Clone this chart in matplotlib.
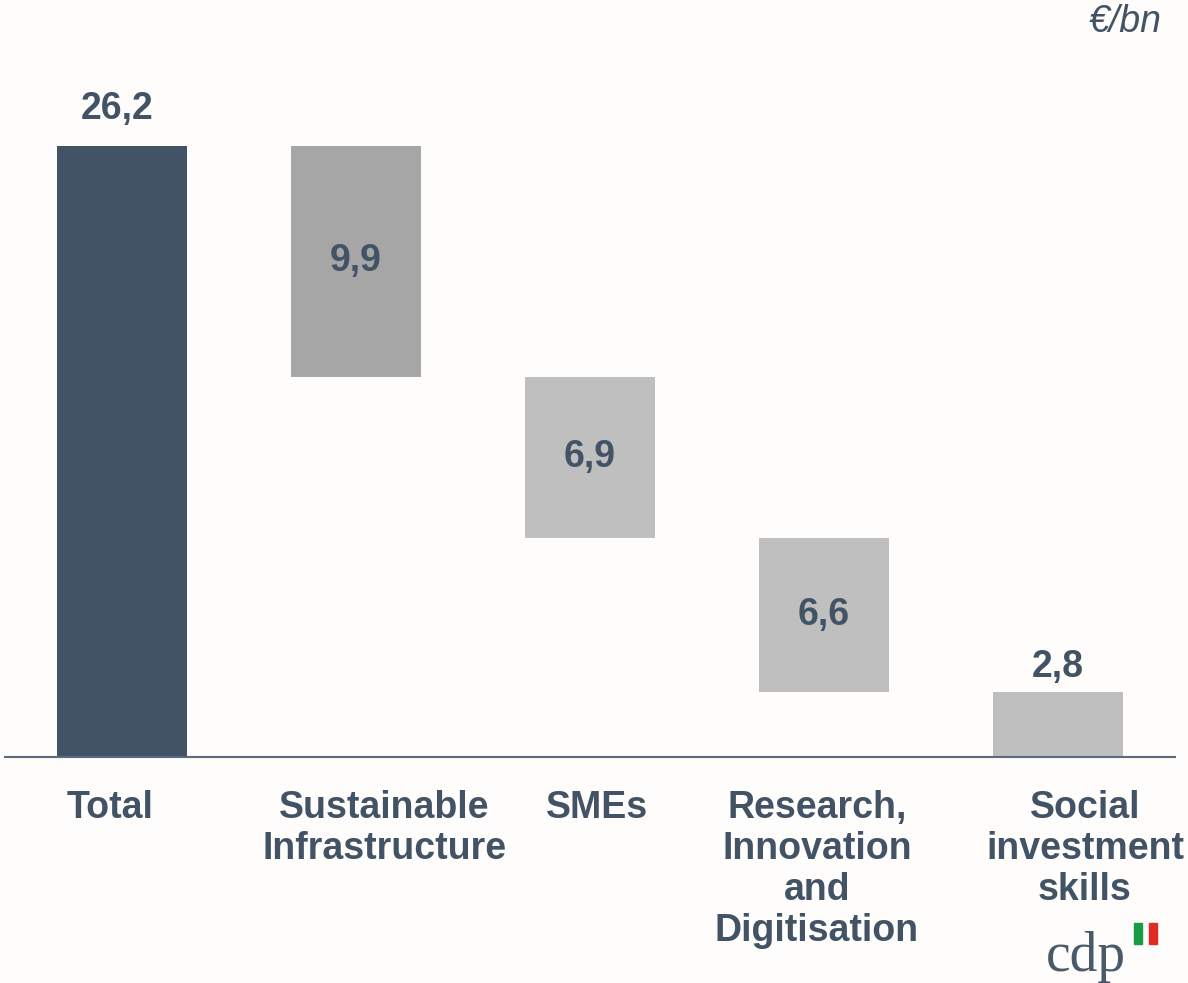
import matplotlib.pyplot as plt
import matplotlib.patches as mpatches
import numpy as np

categories = ["Total", "Sustainable\nInfrastructure", "SMEs",
              "Research,\nInnovation\nand\nDigitisation", "Social\ninvestment\nskills"]
values = [26.2, 9.9, 6.9, 6.6, 2.8]
value_labels = ["26,2", "9,9", "6,9", "6,6", "2,8"]

dark = "#435366"
bg = "#fefdfb"
colors = [dark, "#a6a6a6", "#bfbfbf", "#bfbfbf", "#bfbfbf"]

plt.rcParams['font.family'] = ['Liberation Sans', 'DejaVu Sans']

# waterfall: total first, then the parts stepping down from the top
bottoms = [0.0]
tops = [values[0]]
level = values[0]
for v in values[1:]:
    tops.append(level)
    level -= v
    bottoms.append(level)
heights = np.array(tops) - np.array(bottoms)

W, H = 1188, 983
fig = plt.figure(figsize=(W / 100, H / 100), dpi=100, facecolor=bg)
scale = 611 / 26.2  # px per unit
ymax = 30
ax_h = ymax * scale
ax = fig.add_axes([5 / W, (H - 757) / H, 1170 / W, ax_h / H])
ax.set_facecolor(bg)

xpos = np.arange(len(categories))
ax.bar(xpos, heights, bottom=bottoms, width=130 / 234, color=colors)
ax.set_xlim(-0.5, 4.5)
ax.set_ylim(0, ymax)

for s in ["top", "right", "left"]:
    ax.spines[s].set_visible(False)
ax.spines["bottom"].set_color("#5a6b7d")
ax.spines["bottom"].set_linewidth(1.5)
ax.set_xticks([])
ax.set_yticks([])

# value labels: total and last bar above, others inside
fs = 27
for i, (b, t, lab) in enumerate(zip(bottoms, tops, value_labels)):
    if i == 0:
        ax.text(i - 0.02, t + 0.8, lab, ha="center", va="bottom", fontsize=fs,
                fontweight="bold", color=dark)
    elif i == len(values) - 1:
        ax.text(i, t + 0.3, lab, ha="center", va="bottom", fontsize=fs,
                fontweight="bold", color=dark)
    else:
        ax.text(i, (b + t) / 2, lab, ha="center", va="center", fontsize=fs,
                fontweight="bold", color=dark)

# category labels below the axis
label_shift = [-0.05, 0.12, 0.03, -0.03, 0.115]
for i, cat in enumerate(categories):
    ax.text(i + label_shift[i], -1.42, cat, ha="center", va="top", fontsize=fs,
            fontweight="bold", color=dark, linespacing=1.18)

fig.text(1162 / W, 1 - 22 / H, "€/bn", ha="right", va="center", fontsize=27,
         style="italic", color=dark)

# cdp logo
fig.text(1086 / W, 1 - 957 / H, "cdp", ha="center", va="center", fontsize=40,
         family="Liberation Serif", color="#4a5a6b")
fig.patches.append(mpatches.Rectangle((1134 / W, 1 - 944 / H), 8 / W, 21 / H,
                                      transform=fig.transFigure, color="#1a9a47"))
fig.patches.append(mpatches.Rectangle((1149 / W, 1 - 944 / H), 8 / W, 21 / H,
                                      transform=fig.transFigure, color="#e32a22"))

fig.savefig("out.png", dpi=100, facecolor=bg)
